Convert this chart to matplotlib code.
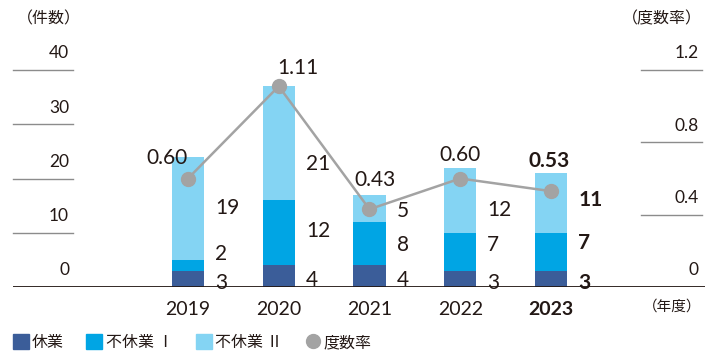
import numpy as np
import matplotlib
matplotlib.use("Agg")
import matplotlib.pyplot as plt
from matplotlib.patches import Patch
from matplotlib.lines import Line2D

plt.rcParams['font.family'] = ['Lato', 'Noto Sans CJK JP', 'DejaVu Sans']

years = ["2019", "2020", "2021", "2022", "2023"]
kyugyo = [3, 4, 4, 3, 3]            # 休業
fukyugyo1 = [2, 12, 8, 7, 7]        # 不休業Ⅰ
fukyugyo2 = [19, 21, 5, 12, 11]     # 不休業Ⅱ
rate = [0.60, 1.11, 0.43, 0.60, 0.53]  # 度数率
rate_labels = ["0.60", "1.11", "0.43", "0.60", "0.53"]

c_dark = "#3b5d99"
c_mid = "#00a5e4"
c_light = "#84d4f3"
c_gray = "#a3a3a3"
c_text = "#231815"
jp = ['Noto Sans CJK JP', 'DejaVu Sans']

fig = plt.figure(figsize=(7.2, 3.6), dpi=100)
ax = fig.add_axes([13/720, 1 - 287/360, (705 - 13)/720, (287 - 70)/360])
x = np.arange(len(years))
w = 0.353
k = np.array(kyugyo)
f1 = np.array(fukyugyo1)
f2 = np.array(fukyugyo2)
ax.bar(x, k, w, color=c_dark, zorder=2)
ax.bar(x, f1, w, bottom=k, color=c_mid, zorder=2)
ax.bar(x, f2, w, bottom=k + f1, color=c_light, zorder=2)
ax.set_xlim(-1.928, 5.697)
ax.set_ylim(0, 40)
for s in ax.spines.values():
    s.set_visible(False)
ax.set_xticks([])
ax.set_yticks([])
ax.axhline(0, color=c_text, lw=1.3, zorder=3)

# left scale: short lines with labels above
for v in [10, 20, 30, 40]:
    ax.plot([-1.928, -1.27], [v, v], color="#8c8c8c", lw=1.0, clip_on=False)
for v in [0, 10, 20, 30, 40]:
    ax.annotate(str(v), (-1.31, v), xytext=(0, 12), textcoords="offset points",
                ha="right", va="center", fontsize=12.5, color=c_text)
ax.text(-1.89, 40 + 9.4, "（件数）", ha="left", va="center", fontsize=11.5,
        color=c_text, family=jp)

# right scale
ax2 = ax.twinx()
ax2.set_ylim(0, 1.2)
for s in ax2.spines.values():
    s.set_visible(False)
ax2.set_yticks([])
for v in [0.4, 0.8, 1.2]:
    ax2.plot([4.99, 5.66], [v, v], color="#8c8c8c", lw=1.0, clip_on=False)
for v, t in zip([0, 0.4, 0.8, 1.2], ["0", "0.4", "0.8", "1.2"]):
    ax2.annotate(t, (5.63, v), xytext=(0, 12), textcoords="offset points",
                 ha="right", va="center", fontsize=12.5, color=c_text)
ax2.text(5.66, 1.2 + 0.28, "（度数率）", ha="right", va="center", fontsize=11.5,
         color=c_text, family=jp)

ax2.plot(x, rate, color=c_gray, lw=1.8, marker="o", ms=10, zorder=5)

# year labels
for i, y in enumerate(years):
    ax.annotate(y, (i, 0), xytext=(0, -16), textcoords="offset points", ha="center",
                va="center", fontsize=14, color=c_text,
                fontweight="bold" if y == "2023" else "normal")
ax.annotate("（年度）", (5.66, 0), xytext=(0, -14), textcoords="offset points",
            ha="right", va="center", fontsize=10.5, color=c_text, family=jp)

# segment labels
dy_k = [-3, -3, -3, -3, -3]
dy_f1 = [8, 1, -1, 5, 6]
dy_f2 = [0, -15, -2, -7, 2]
for i in range(len(years)):
    bold = "bold" if i == len(years) - 1 else "normal"
    segs = [(k[i] / 2, kyugyo[i], dy_k[i]),
            (k[i] + f1[i] / 2, fukyugyo1[i], dy_f1[i]),
            (k[i] + f1[i] + f2[i] / 2, fukyugyo2[i], dy_f2[i])]
    for yc, val, dy in segs:
        ax.annotate(str(val), (i + w / 2, yc), xytext=(8, dy), textcoords="offset points",
                    ha="left", va="center", fontsize=15, color=c_text, fontweight=bold)

# rate labels
rate_off = [(-15, 15), (14, 13), (4, 21), (0, 17), (-1, 22)]
for i, (r, t) in enumerate(zip(rate, rate_labels)):
    ax2.annotate(t, (i, r), xytext=rate_off[i], textcoords="offset points",
                 ha="center", va="center", fontsize=15, color=c_text,
                 fontweight="bold" if i == len(years) - 1 else "normal")

handles = [Patch(color=c_dark), Patch(color=c_mid), Patch(color=c_light),
           Line2D([], [], color=c_gray, marker="o", ls="", ms=10)]
labels = ["休業", "不休業 Ⅰ", "不休業 Ⅱ", "度数率"]
fig.legend(handles, labels, loc="lower left", bbox_to_anchor=(-0.002, -0.015), ncol=4,
           frameon=False, prop={"family": jp, "size": 11.5}, handlelength=1.0,
           handleheight=1.0, handletextpad=0.2, columnspacing=1.4, labelcolor=c_text)

fig.savefig("out.png", dpi=100)
